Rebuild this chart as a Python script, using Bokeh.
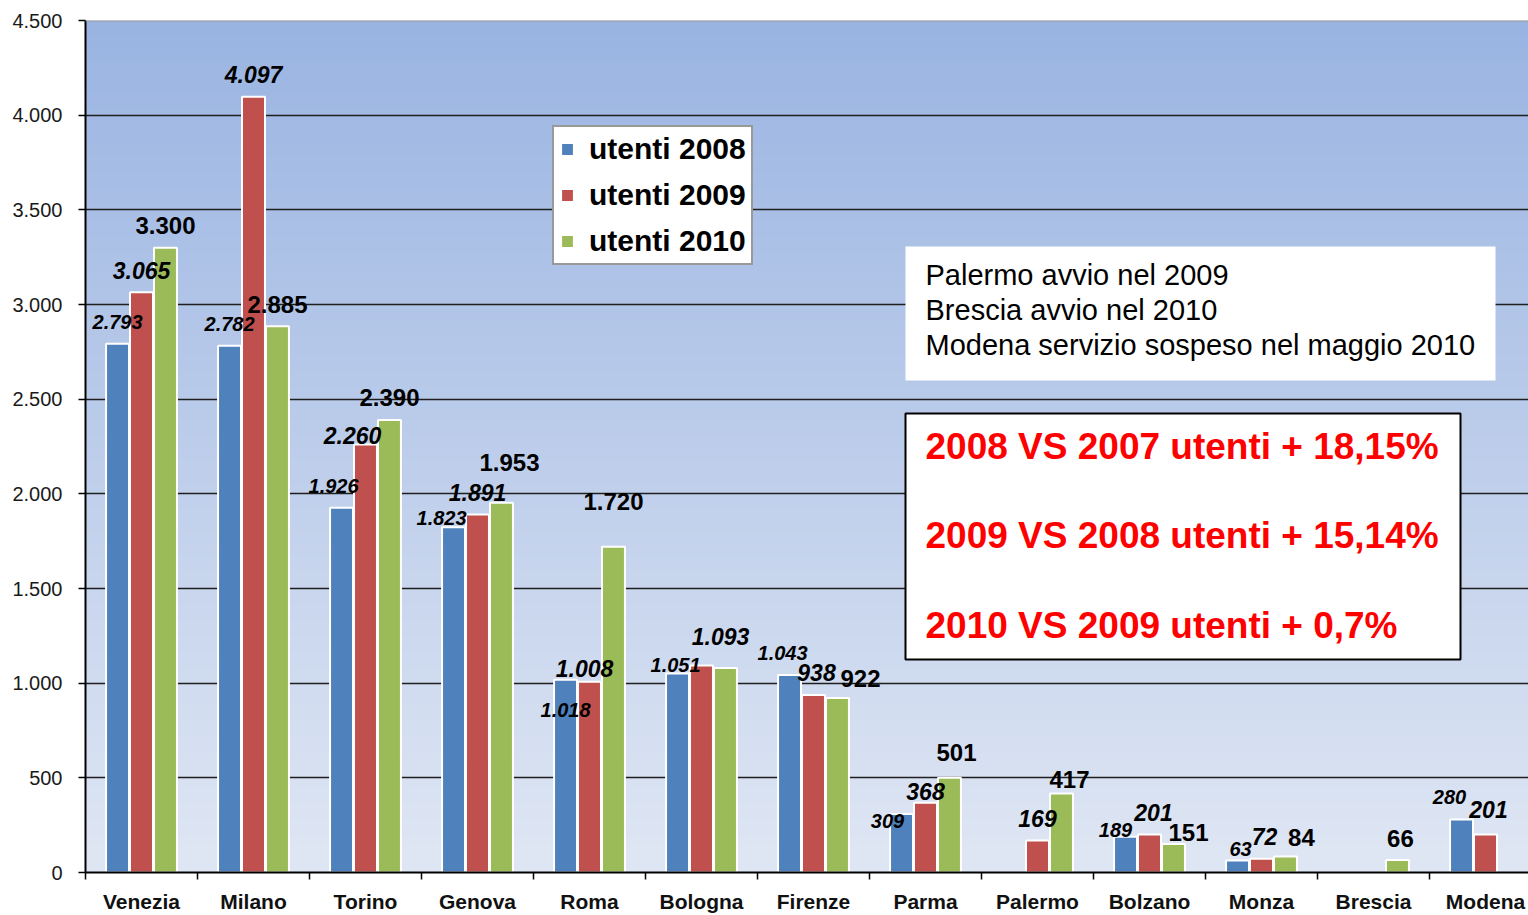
import numpy as np
from bokeh.plotting import figure
from bokeh.models import (ColumnDataSource, Range1d, FixedTicker, BoxAnnotation,
                          Label, Legend, LegendItem, Span)
from bokeh.core.properties import value
from bokeh.embed import file_html
from bokeh.resources import INLINE

# ---------------- data ----------------
categories = ["Venezia", "Milano", "Torino", "Genova", "Roma", "Bologna", "Firenze",
              "Parma", "Palermo", "Bolzano", "Monza", "Brescia", "Modena"]
utenti_2008 = [2793, 2782, 1926, 1823, 1018, 1051, 1043, 309, None, 189, 63, None, 280]
utenti_2009 = [3065, 4097, 2260, 1891, 1008, 1093, 938, 368, 169, 201, 72, None, 201]
utenti_2010 = [3300, 2885, 2390, 1953, 1720, 1080, 922, 501, 417, 151, 84, 66, None]
series_names = ["utenti 2008", "utenti 2009", "utenti 2010"]
y_ticks = [0, 500, 1000, 1500, 2000, 2500, 3000, 3500, 4000, 4500]
y_tick_labels = ["0", "500", "1.000", "1.500", "2.000", "2.500", "3.000", "3.500", "4.000", "4.500"]
hidden_labels = {("Bologna", "utenti 2010")}
notes = ["Palermo avvio nel 2009", "Brescia avvio nel 2010",
         "Modena servizio sospeso nel maggio 2010"]
growth = ["2008 VS 2007 utenti + 18,15%", "2009 VS 2008 utenti + 15,14%",
          "2010 VS 2009 utenti + 0,7%"]

# ---------------- layout / style ----------------
W, H = 1528, 915
BORDER_L, BORDER_T, BORDER_B = 85, 20, 43
CAT_PX = 112.0
FRAME_BOTTOM = H - BORDER_B
FRAME_H = H - BORDER_T - BORDER_B
Y_MAX = 4500.0

colors = ["#4f81bd", "#c0504d", "#9bbb59"]
offsets = [-0.214, 0.0, 0.214]
bar_w = 0.205
label_styles = [("bold italic", "20px"), ("bold italic", "23px"), ("bold", "24px")]
FONT = "Liberation Sans"
DEFAULT_LABEL_DY = -22
# manual nudges of individual value labels (screen px: dx right, dy down)
label_nudge = {
    ("Torino", "utenti 2008"): (-8, 0), ("Torino", "utenti 2009"): (-13, 13),
    ("Genova", "utenti 2008"): (-12, 13), ("Genova", "utenti 2010"): (8, -18),
    ("Roma", "utenti 2008"): (0, 52), ("Roma", "utenti 2009"): (-5, 9),
    ("Roma", "utenti 2010"): (0, -23),
    ("Bologna", "utenti 2008"): (-2, 13), ("Bologna", "utenti 2009"): (19, -7),
    ("Firenze", "utenti 2008"): (-7, 0), ("Firenze", "utenti 2009"): (3, 0),
    ("Firenze", "utenti 2010"): (23, 3),
    ("Parma", "utenti 2008"): (-14, 29), ("Parma", "utenti 2009"): (0, 11),
    ("Parma", "utenti 2010"): (7, -3),
    ("Palermo", "utenti 2010"): (8, 8),
    ("Bolzano", "utenti 2008"): (-10, 15), ("Bolzano", "utenti 2009"): (4, 0),
    ("Bolzano", "utenti 2010"): (15, 11),
    ("Monza", "utenti 2008"): (3, 10), ("Monza", "utenti 2009"): (3, 0),
    ("Monza", "utenti 2010"): (16, 3),
    ("Brescia", "utenti 2010"): (3, 0),
    ("Modena", "utenti 2008"): (-12, 0), ("Modena", "utenti 2009"): (3, -3),
}


def px_x(px):
    return -0.5 + (px - BORDER_L) / CAT_PX


def px_y(py):
    return (FRAME_BOTTOM - py) * Y_MAX / FRAME_H


def it_fmt(v):
    return f"{v:,}".replace(",", ".")


p = figure(width=W, height=H, output_backend="svg", toolbar_location=None,
           x_range=Range1d(-0.5, -0.5 + (W - BORDER_L) / CAT_PX),
           y_range=Range1d(0, Y_MAX),
           min_border_left=BORDER_L, min_border_right=0,
           min_border_top=BORDER_T, min_border_bottom=BORDER_B)
p.outline_line_color = None
p.background_fill_color = "white"
p.border_fill_color = "white"

# gradient plot background
n = 256
t = np.linspace(0.0, 1.0, n)[:, None]
bottom_c = np.array([224, 231, 244], dtype=float)
top_c = np.array([154, 180, 226], dtype=float)
cols = bottom_c + (top_c - bottom_c) * t
img = np.empty((n, 1), dtype=np.uint32)
view = img.view(dtype=np.uint8).reshape((n, 1, 4))
view[:, 0, 0:3] = cols.astype(np.uint8)
view[:, 0, 3] = 255
p.image_rgba(image=[img], x=-0.5, y=0, dw=14, dh=Y_MAX, level="image")

# grid
p.xgrid.visible = False
p.ygrid.ticker = FixedTicker(ticks=y_ticks[1:-1])
p.ygrid.grid_line_color = "#1f1f1f"
p.ygrid.grid_line_width = 1.5
p.add_layout(Span(location=Y_MAX, dimension="width", line_color="#9a9a9a", line_width=2))

# bars
all_series = [utenti_2008, utenti_2009, utenti_2010]
renderers = []
for name, vals, col, off in zip(series_names, all_series, colors, offsets):
    xs = [i + off for i, v in enumerate(vals) if v is not None]
    tops = [v for v in vals if v is not None]
    src = ColumnDataSource(dict(x=xs, top=tops))
    r = p.vbar(x="x", top="top", bottom=0, width=bar_w, source=src,
               fill_color=col, line_color="white", line_width=2)
    renderers.append(r)

# value labels (drawn after all bars)
for name, vals, off, (fstyle, fsize) in zip(series_names, all_series, offsets, label_styles):
    lx, ly, lt, ldx, ldy = [], [], [], [], []
    for i, (cat, v) in enumerate(zip(categories, vals)):
        if v is None or (cat, name) in hidden_labels:
            continue
        dx, dy = label_nudge.get((cat, name), (0, 0))
        lx.append(i + off)
        ly.append(v)
        lt.append(it_fmt(v))
        ldx.append(dx)
        ldy.append(DEFAULT_LABEL_DY + dy)
    lsrc = ColumnDataSource(dict(x=lx, y=ly, text=lt, dx=ldx, dy=ldy))
    p.text(x="x", y="y", text="text", x_offset="dx", y_offset="dy", source=lsrc,
           text_font=value(FONT), text_font_style=fstyle, text_font_size=value(fsize),
           text_color="black", text_align="center", text_baseline="alphabetic")

# axes
p.yaxis.ticker = FixedTicker(ticks=y_ticks)
p.yaxis.major_label_overrides = dict(zip(y_ticks, y_tick_labels))
p.yaxis.major_tick_out = 7
p.yaxis.major_tick_in = 0
p.yaxis.minor_tick_line_color = None
p.yaxis.axis_line_width = 2
p.yaxis.axis_line_color = "black"
p.yaxis.major_tick_line_width = 1.5
p.yaxis.major_label_standoff = 16
p.yaxis.major_label_text_font = FONT
p.yaxis.major_label_text_font_size = "20px"
p.yaxis.major_label_text_color = "#1a1a1a"

p.xaxis.ticker = FixedTicker(ticks=list(range(len(categories))),
                             minor_ticks=[i - 0.5 for i in range(len(categories) + 1)])
p.xaxis.major_label_overrides = {i: c for i, c in enumerate(categories)}
p.xaxis.major_tick_line_color = None
p.xaxis.major_tick_out = 0
p.xaxis.major_tick_in = 0
p.xaxis.minor_tick_out = 7
p.xaxis.minor_tick_in = 0
p.xaxis.minor_tick_line_color = "black"
p.xaxis.minor_tick_line_width = 1.5
p.xaxis.axis_line_width = 2
p.xaxis.axis_line_color = "black"
p.xaxis.major_label_standoff = 10
p.xaxis.major_label_text_font = FONT
p.xaxis.major_label_text_font_size = "21px"
p.xaxis.major_label_text_font_style = "bold"
p.xaxis.major_label_text_color = "#111111"

# legend
legend = Legend(items=[LegendItem(label=nm, renderers=[r]) for nm, r in zip(series_names, renderers)],
                location=(552 - BORDER_L, FRAME_BOTTOM - 265))
legend.label_text_font = FONT
legend.label_text_font_size = "30px"
legend.label_text_font_style = "bold"
legend.label_text_color = "black"
legend.glyph_width = 16
legend.glyph_height = 16
legend.label_standoff = 14
legend.spacing = 12
legend.padding = 5
legend.margin = 0
legend.border_line_color = "#333333"
legend.border_line_width = 2
legend.background_fill_color = "white"
legend.background_fill_alpha = 1.0
p.add_layout(legend)

# notes box
p.add_layout(BoxAnnotation(left=px_x(905), right=px_x(1495), top=px_y(246), bottom=px_y(380),
                           fill_color="white", fill_alpha=1.0, line_color=None))
for txt, base in zip(notes, [274, 309, 344]):
    p.add_layout(Label(x=px_x(925), y=px_y(base), text=txt, text_font=FONT,
                       text_font_size="29px", text_color="black",
                       text_align="left", text_baseline="alphabetic"))

# growth box
p.add_layout(BoxAnnotation(left=px_x(905), right=px_x(1460), top=px_y(413), bottom=px_y(659),
                           fill_color="white", fill_alpha=1.0, line_color="black",
                           line_alpha=1.0, line_width=2))
for txt, base in zip(growth, [446, 535, 625]):
    p.add_layout(Label(x=px_x(925), y=px_y(base), text=txt, text_font=FONT,
                       text_font_size="37px", text_font_style="bold", text_color="#ff0000",
                       text_align="left", text_baseline="alphabetic"))

open("out.html", "w").write(file_html(p, INLINE))
